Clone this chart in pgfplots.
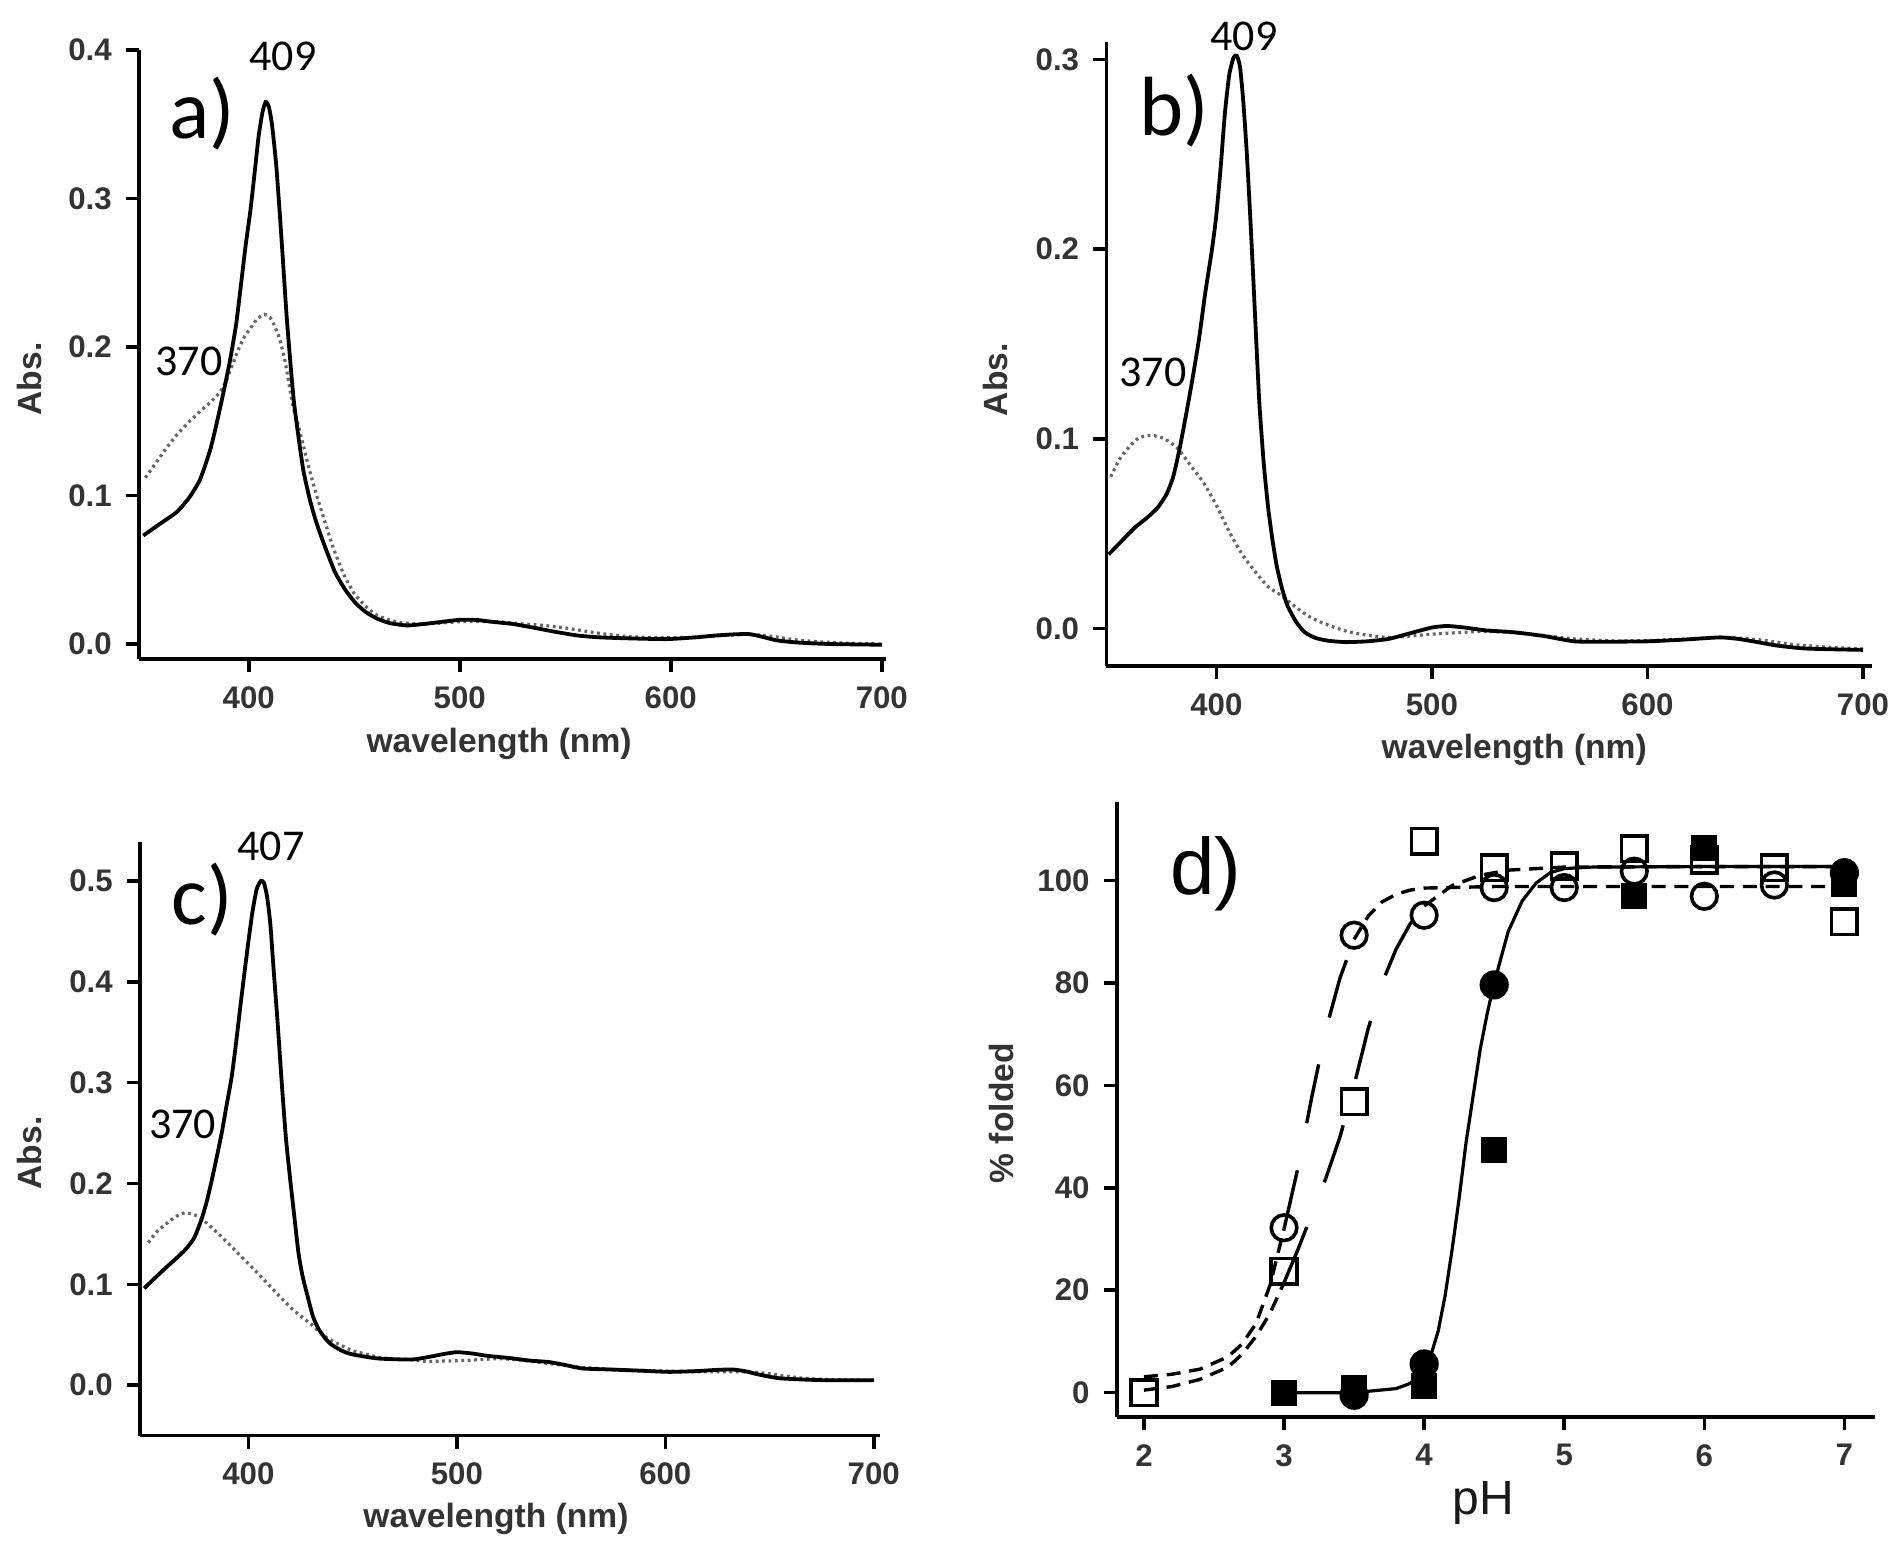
\documentclass[border=0pt]{standalone}
\usepackage{fontspec}
\setmainfont{Liberation Sans}
\newfontfamily\calib{Carlito}
\usepackage{pgfplots}
\pgfplotsset{compat=1.18}
\tikzset{
  ann/.style={font=\calib\fontsize{11}{11}\selectfont},
  big/.style={font=\calib\fontsize{21}{21}\selectfont},
}
\pgfplotsset{
  panel/.style={
    scale only axis,
    axis x line*=bottom, axis y line*=left,
    axis line style={line width=0.9pt},
    every tick/.style={line width=0.9pt, black},
    tick align=outside,
    major tick length=3.3pt,
    tick label style={font=\bfseries\fontsize{7.8}{9}\selectfont, text=black!80},
    label style={font=\bfseries\fontsize{8.4}{10}\selectfont, text=black!80},
    /pgf/number format/assume math mode=true,
    scaled ticks=false,
    clip=false,
  },
  spec/.style={panel, xmin=348, xmax=702, xtick={400,500,600,700},
    yticklabel style={/pgf/number format/fixed, /pgf/number format/fixed zerofill, /pgf/number format/precision=1},
    xlabel={wavelength (nm)}, ylabel={Abs.}},
  solidl/.style={black, line width=0.95pt, no marks, smooth, tension=0.35},
  dotl/.style={black!60, line width=0.8pt, dash pattern=on 0.7pt off 0.9pt, no marks, smooth, tension=0.35},
}
\begin{document}
\begin{tikzpicture}
\useasboundingbox (0,0) rectangle (474pt,386.5pt);
% ---------------- a ----------------
\begin{axis}[spec, at={(34.75pt,221.75pt)}, anchor=south west,
  width=186.75pt, height=152.25pt, ymin=-0.0101, ymax=0.4,
  ytick={0,0.1,0.2,0.3,0.4},
  xlabel style={at={(axis description cs:0.482,-0.1396)}, anchor=center},
  ylabel style={at={(axis description cs:-0.147,0.46)}, anchor=center}]
\addplot[dotl] coordinates {(351,0.112)(356,0.122)(361,0.132)(366,0.141)(372,0.150)(378,0.158)(382,0.163)(386,0.169)(389,0.176)(392,0.187)(395,0.198)(398,0.207)(401,0.213)(404,0.219)(407.5,0.222)(410,0.220)(412,0.215)(414.5,0.206)(417,0.192)(419,0.176)(421,0.160)(423.5,0.147)(426,0.133)(429,0.116)(432,0.101)(435.5,0.085)(440,0.065)(445,0.047)(450,0.034)(455,0.026)(460,0.020)(466,0.0165)(472,0.0145)(480,0.0135)(490,0.0140)(500,0.0150)(510,0.0152)(520,0.0148)(530,0.0135)(540,0.0125)(550,0.0108)(560,0.0085)(570,0.0065)(580,0.0050)(595,0.0042)(610,0.0045)(625,0.0058)(637,0.0065)(648,0.0052)(658,0.0030)(670,0.0015)(685,0.0005)(700,0.0)};
\addplot[solidl] coordinates {(350,0.073)(357,0.080)(366,0.089)(372,0.099)(377,0.111)(382,0.132)(386.6,0.160)(391,0.190)(394,0.215)(396,0.238)(398.5,0.268)(400.8,0.292)(403,0.320)(404.7,0.342)(406.5,0.358)(408,0.365)(409.5,0.362)(411,0.350)(413,0.323)(415,0.284)(416.5,0.252)(418,0.220)(420,0.185)(421.5,0.162)(424,0.135)(426,0.116)(429,0.097)(432,0.082)(436,0.066)(441,0.048)(446,0.036)(451,0.027)(456,0.021)(461,0.017)(467,0.014)(475,0.0125)(483,0.0135)(492,0.0150)(500,0.0163)(508,0.0162)(515,0.015)(525,0.0135)(535,0.011)(546,0.008)(556,0.0057)(566,0.0045)(580,0.0038)(598,0.0033)(612,0.0045)(621,0.0057)(630,0.0065)(637,0.0067)(643,0.0050)(650,0.0025)(660,0.001)(675,0.0)(700,-0.0005)};
\node[ann] at (axis cs:416.2,0.396) {409};
\node[ann] at (axis cs:371.7,0.190) {370};
\node[big] at (axis cs:378,0.357) {a)};
\end{axis}
% ---------------- b ----------------
\begin{axis}[spec, at={(276.6pt,220pt)}, anchor=south west,
  width=191.3pt, height=155.9pt, xmin=349, xmax=704, ymin=-0.0198, ymax=0.309,
  ytick={0,0.1,0.2,0.3},
  xlabel style={at={(axis description cs:0.533,-0.135)}, anchor=center},
  ylabel style={at={(axis description cs:-0.145,0.459)}, anchor=center}]
\addplot[dotl] coordinates {(351,0.080)(355,0.089)(359,0.095)(364,0.1005)(370,0.1018)(376,0.100)(382,0.095)(388,0.086)(394,0.077)(400,0.065)(406,0.051)(412,0.039)(418,0.030)(424,0.022)(430,0.0175)(436,0.012)(442,0.007)(448,0.0035)(455,0.0005)(462,-0.002)(470,-0.0035)(480,-0.0048)(490,-0.0040)(500,-0.0030)(512,-0.0022)(525,-0.0015)(538,-0.0022)(550,-0.0035)(566,-0.0055)(586,-0.0066)(605,-0.0062)(620,-0.0055)(636,-0.0047)(652,-0.0060)(668,-0.0085)(685,-0.0100)(700,-0.0108)};
\addplot[solidl] coordinates {(350,0.039)(356,0.046)(362,0.053)(368,0.0585)(373,0.064)(377,0.071)(380,0.080)(383,0.095)(386,0.113)(389,0.132)(392,0.153)(395,0.178)(398,0.200)(400,0.218)(402,0.243)(404,0.272)(406,0.292)(408,0.301)(409.5,0.302)(411,0.296)(412.5,0.278)(414,0.253)(415.5,0.222)(417,0.188)(418.5,0.152)(420,0.118)(422,0.087)(424,0.064)(426,0.047)(428,0.033)(430.5,0.021)(433,0.012)(437,0.0035)(441,-0.002)(446,-0.005)(452,-0.0065)(460,-0.0072)(470,-0.0068)(480,-0.0055)(490,-0.0025)(500,0.0005)(507,0.0013)(515,0.0005)(525,-0.001)(538,-0.002)(552,-0.004)(566,-0.0068)(580,-0.007)(600,-0.0068)(615,-0.006)(626,-0.0052)(634,-0.0047)(642,-0.0055)(650,-0.0070)(660,-0.0090)(672,-0.0105)(686,-0.0110)(700,-0.0113)};
\node[ann] at (axis cs:412.8,0.312) {409};
\node[ann] at (axis cs:370.6,0.135) {370};
\node[big] at (axis cs:380.5,0.273) {b)};
\end{axis}
% ---------------- c ----------------
\begin{axis}[spec, at={(35pt,27.6pt)}, anchor=south west,
  width=185pt, height=148.5pt, xmin=348, xmax=703, ymin=-0.05, ymax=0.539,
  ytick={0,0.1,0.2,0.3,0.4,0.5},
  xlabel style={at={(axis description cs:0.481,-0.140)}, anchor=center},
  ylabel style={at={(axis description cs:-0.15,0.476)}, anchor=center}]
\addplot[dotl] coordinates {(352,0.1414)(356,0.152)(360,0.159)(365,0.167)(369.6,0.171)(374,0.169)(377.6,0.165)(382,0.157)(387.2,0.147)(393,0.135)(398.4,0.1236)(404,0.112)(409.6,0.0998)(415,0.088)(420.8,0.076)(426,0.067)(430.4,0.060)(434,0.053)(438.4,0.046)(444,0.040)(449.6,0.0345)(456,0.031)(462.3,0.0277)(470,0.026)(478.3,0.0254)(485,0.0235)(495,0.024)(503,0.0244)(512,0.0255)(520.5,0.0263)(530,0.025)(538,0.023)(548,0.0205)(558.5,0.018)(572,0.016)(587.7,0.0146)(602,0.0138)(617,0.0132)(637.4,0.0132)(645,0.0125)(652,0.0107)(660,0.0085)(666.7,0.0068)(680,0.0055)(700,0.0049)};
\addplot[solidl] coordinates {(350,0.096)(355,0.106)(360,0.1157)(365,0.125)(370,0.135)(374,0.146)(377.6,0.165)(380,0.182)(382.4,0.203)(385,0.228)(387.2,0.250)(389.5,0.277)(392,0.306)(394,0.338)(396,0.373)(398,0.407)(400,0.440)(402,0.470)(404,0.492)(406,0.500)(407.5,0.498)(409,0.484)(410.5,0.458)(412,0.415)(414,0.360)(416,0.300)(418,0.245)(420,0.205)(422,0.168)(424,0.1315)(426,0.108)(428.8,0.085)(431,0.068)(433.6,0.056)(437,0.046)(440,0.040)(445,0.034)(450,0.0305)(462,0.0265)(478,0.0254)(486,0.0278)(494,0.031)(500,0.0327)(507,0.0315)(515,0.029)(525,0.027)(535,0.0244)(544,0.023)(552,0.020)(560,0.0166)(573,0.0156)(590,0.0142)(602,0.0132)(615,0.0140)(625,0.0152)(632,0.0156)(638,0.0140)(645,0.0105)(655,0.0068)(675,0.0050)(700,0.0049)};
\node[ann] at (axis cs:410.8,0.534) {407};
\node[ann] at (axis cs:368.5,0.259) {370};
\node[big] at (axis cs:377.8,0.481) {c)};
\end{axis}
% ---------------- d ----------------
\begin{axis}[panel, at={(279.2pt,32.25pt)}, anchor=south west,
  width=189.5pt, height=153.75pt, xmin=1.806, xmax=7.217, ymin=-4.75, ymax=115.3,
  xtick={2,3,4,5,6,7}, ytick={0,20,40,60,80,100},
  xlabel={pH}, ylabel={\% folded},
  xlabel style={at={(axis description cs:0.484,-0.14)}, anchor=center, font=\fontsize{12}{12}\selectfont, text=black!90},
  ylabel style={at={(axis description cs:-0.152,0.494)}, anchor=center}]
\addplot[black, line width=0.85pt, dash pattern=on 3.5pt off 2.2pt, no marks] coordinates {(2.0,3.1)(2.2,3.6)(2.4,4.6)(2.6,7.0)(2.7,9.5)(2.8,13.5)(2.9,21)(3.0,32)};
\addplot[black, line width=0.85pt, dash pattern=on 15pt off 12pt, no marks] coordinates {(3.0,32)(3.1,44)(3.2,58)(3.3,71)(3.4,81)(3.5,88.5)};
\addplot[black, line width=0.85pt, dash pattern=on 3.5pt off 2.2pt, no marks] coordinates {(3.5,88.5)(3.6,93)(3.7,95.8)(3.8,97.3)(3.9,98.1)(4.0,98.5)(4.5,98.8)(5,98.8)(6,98.8)(7.0,98.8)};
\addplot[black, line width=0.85pt, dash pattern=on 3.5pt off 2.2pt, no marks] coordinates {(2.0,0.5)(2.2,1.2)(2.4,2.6)(2.6,5.0)(2.7,7.5)(2.8,11)(2.9,15.5)(3.0,21.5)};
\addplot[black, line width=0.85pt, dash pattern=on 15pt off 12pt, no marks] coordinates {(3.0,21.5)(3.1,28)(3.2,35)(3.3,42)(3.4,50)(3.5,60)(3.6,71)(3.7,80)(3.8,86.6)(3.9,91.5)(4.0,95)};
\addplot[black, line width=0.85pt, dash pattern=on 3.5pt off 2.2pt, no marks] coordinates {(4.0,95)(4.2,99)(4.4,101)(4.6,102)(5.0,102.6)(6,102.7)(7.0,102.7)};
\addplot[black, line width=0.8pt, no marks] coordinates {(3.0,0)(3.5,0)(3.8,0.8)(3.9,1.8)(4.0,4.5)(4.05,7.5)(4.1,12)(4.15,19)(4.2,28)(4.25,38)(4.3,49)(4.35,58)(4.4,67)(4.45,74)(4.5,80)(4.55,85)(4.6,90)(4.7,96)(4.8,99.5)(4.9,101.5)(5.0,102.3)(5.2,102.6)(6,102.7)(7.0,102.7)};
\addplot[only marks, mark=square*, mark size=3pt, mark options={fill=black, draw=black, line width=0.5pt}] coordinates {(3,0)(3.5,1)(4,1.3)(4.5,47.4)(5.5,97)(6,106.3)(7,99.3)};
\addplot[only marks, mark=*, mark size=3.4pt, mark options={fill=black, draw=black, line width=0.5pt}] coordinates {(3.5,-0.5)(4,5.6)(4.5,79.6)(7,101.5)};
\addplot[only marks, mark=square, mark size=3.2pt, mark options={draw=black, line width=0.9pt}] coordinates {(2,0)(3,23.7)(3.5,56.8)(4,107.6)(4.5,102.5)(5,102.8)(5.5,106.2)(6,104)(6.5,102.5)(7,91.9)};
\addplot[only marks, mark=o, mark size=3.2pt, mark options={draw=black, line width=0.9pt}] coordinates {(3,32.2)(3.5,89.3)(4,93.2)(4.5,98.6)(5,98.6)(5.5,101.8)(6,96.9)(6.5,99.1)};
\node[font=\fontsize{20}{20}\selectfont] at (axis cs:2.442,101.3) {d)};
\end{axis}
\end{tikzpicture}
\end{document}
